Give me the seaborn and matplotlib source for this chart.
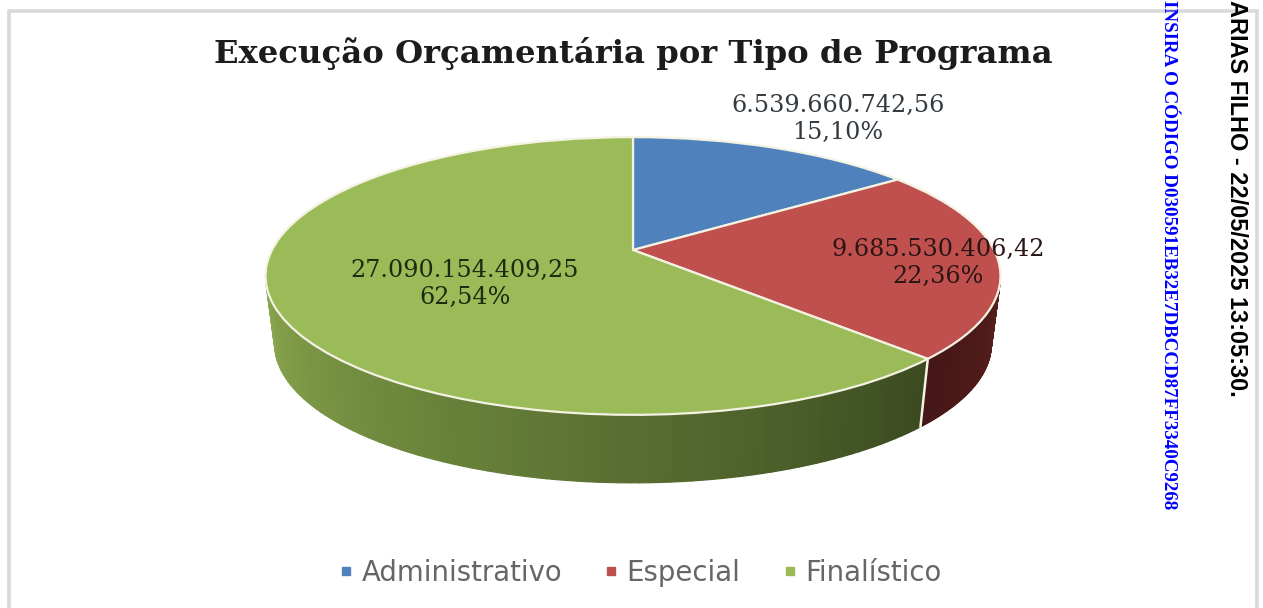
import numpy as np
import matplotlib
matplotlib.use("Agg")
import matplotlib.pyplot as plt
from matplotlib.collections import PolyCollection
from matplotlib.colors import LinearSegmentedColormap
from matplotlib.lines import Line2D
from matplotlib.transforms import Transform
import seaborn as sns

title = "Execução Orçamentária por Tipo de Programa"
categories = ["Administrativo", "Especial", "Finalístico"]
values = [6539660742.56, 9685530406.42, 27090154409.25]
percents = [15.10, 22.36, 62.54]
palette = ["#4f81bd", "#c0504d", "#9bbb59"]
side_ramps = [["#2f4d71", "#2f4d71"], ["#451716", "#561e1c"],
              ["#8aa64e", "#6f8a3e", "#566b30", "#3b4a20"]]
label_centers = [(838, 119), (938, 263), (465, 284)]
stamp_black = "ARIAS FILHO - 22/05/2025 13:05:30."
stamp_blue = "INSIRA O CÓDIGO D030591EB32E7DBCCD87FF3340C9268"

CX, CY, RX, RY, K, DEPTH, SHRINK = 633, 250, 361, 134, 0.187, 68, 0.975


def project(xy):
    xy = np.asarray(xy, dtype=float)
    w = 1 + K * xy[:, 1]
    return np.column_stack([CX + RX * xy[:, 0] / w, CY - RY * xy[:, 1] / w])


def lower(p):
    return [CX + (p[0] - CX) * SHRINK, p[1] + DEPTH]


class TiltedDisc(Transform):
    input_dims = output_dims = 2
    is_affine = False

    def transform_non_affine(self, values):
        return project(values)


def br(v):
    return f"{v:,.2f}".replace(",", "X").replace(".", ",").replace("X", ".")


sns.set_theme(style="white")
fig = plt.figure(figsize=(12.63, 6.08), dpi=100, facecolor="white")
ax = fig.add_axes([0, 0, 1, 1])

wedges, _ = ax.pie(values, colors=palette, startangle=90, counterclock=False,
                   wedgeprops=dict(edgecolor="#f4f2e2", linewidth=1.6), radius=1)
ax.set_aspect("auto")
ax.set_xlim(0, 1263)
ax.set_ylim(608, 0)
ax.axis("off")
disc = TiltedDisc() + ax.transData
for w in wedges:
    w.set_transform(disc)
    w.set_zorder(5)

# extruded rim, from the same shares as the pie
fractions = np.cumsum([0] + list(values)) / sum(values)
angles = 90 - 360 * fractions
VIS_RIGHT, VIS_LEFT = -12.0, -168.0
for i in range(len(values)):
    a0, a1 = min(angles[i], VIS_RIGHT), max(angles[i + 1], VIS_LEFT)
    if a0 <= a1:
        continue
    ts = np.linspace(a1, a0, 90)[::-1] if i == 2 else np.linspace(a1, a0, 90)
    rim = project(np.column_stack([np.cos(np.radians(ts)), np.sin(np.radians(ts))]))
    ramp = side_ramps[i][::-1] if i == 2 else side_ramps[i]
    cmap = LinearSegmentedColormap.from_list("side", ramp)
    polys, cols = [], []
    for j in range(len(ts) - 1):
        a, b = rim[j], rim[j + 1]
        polys.append([a, b, lower(b), lower(a)])
        cols.append(cmap(j / (len(ts) - 2)))
    ax.add_collection(PolyCollection(polys, facecolors=cols, edgecolors=cols,
                                     linewidths=0.9, joinstyle="round", zorder=3))
    if i == 1:
        p = rim[0]
        q = lower(p)
        ax.plot([p[0], q[0]], [p[1], q[1]], color="#f4f2e2", lw=1.8, zorder=4)

# frame of the pasted picture
for xs, ys in [((8.5, 8.5), (608, 10.5)), ((8.5, 1257), (10.5, 10.5)), ((1257, 1257), (10.5, 608))]:
    ax.plot(xs, ys, color="#d9d9d9", lw=2.6, zorder=1)

ax.text(633, 53, title, family="DejaVu Serif", weight="bold", fontsize=23.2,
        color="#1c1c1c", ha="center", va="center", zorder=6)
text_cols = ["#333a40", "#2b1515", "#1f2a10"]
for (x, y), v, p, c in zip(label_centers, values, percents, text_cols):
    pct = f"{p:.2f}%".replace(".", ",")
    ax.text(x, y, f"{br(v)}\n{pct}", family="DejaVu Serif", fontsize=17.2, color=c,
            ha="center", va="center", linespacing=1.25, zorder=6)

handles = [Line2D([], [], linestyle="none", marker="s", markersize=5.5, color=c) for c in palette]
ax.legend(handles, categories, loc="center", bbox_to_anchor=(641, 573),
          bbox_transform=ax.transData, ncol=3, frameon=False, fontsize=19.8,
          labelcolor="#666666", handlelength=0.4, handletextpad=0.35,
          columnspacing=1.6, borderpad=0)

ax.text(1236, 0, stamp_black, family="Liberation Sans", weight="bold", fontsize=16.9,
        color="black", rotation=-90, ha="center", va="top", zorder=6)
ax.text(1169, 0, stamp_blue, family="Liberation Serif", weight="bold", fontsize=13.7,
        color="#0000ff", rotation=-90, ha="center", va="top", zorder=6)

fig.savefig("out.png", dpi=100, facecolor="white")
